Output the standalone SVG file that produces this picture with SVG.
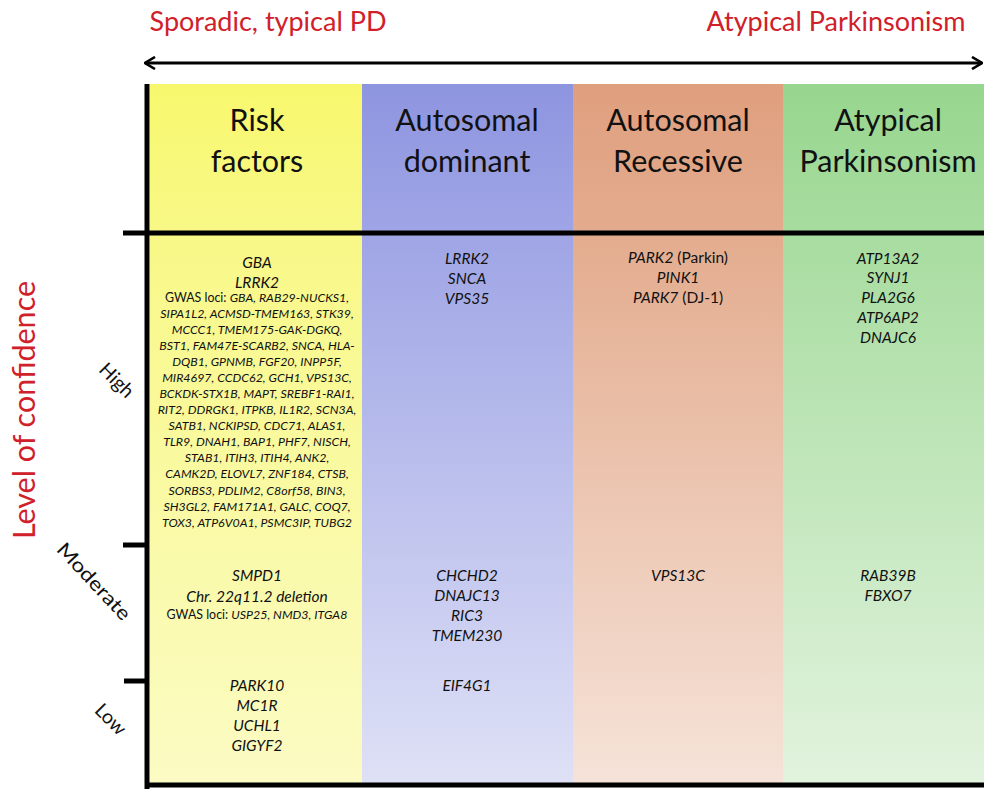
<svg xmlns="http://www.w3.org/2000/svg" width="984" height="789" viewBox="0 0 984 789">
<defs>
<linearGradient id="gy" x1="0" y1="0" x2="0" y2="1"><stop offset="0" stop-color="#f8f86e"/><stop offset="0.2" stop-color="#f8f886"/><stop offset="1" stop-color="#fbfbc4"/></linearGradient>
<linearGradient id="gb" x1="0" y1="0" x2="0" y2="1"><stop offset="0" stop-color="#8e95df"/><stop offset="0.2" stop-color="#9ea4e5"/><stop offset="1" stop-color="#dfe1f6"/></linearGradient>
<linearGradient id="go" x1="0" y1="0" x2="0" y2="1"><stop offset="0" stop-color="#df9f7e"/><stop offset="0.2" stop-color="#e3ab8d"/><stop offset="1" stop-color="#f6e3d9"/></linearGradient>
<linearGradient id="gg" x1="0" y1="0" x2="0" y2="1"><stop offset="0" stop-color="#97d68e"/><stop offset="0.2" stop-color="#a7dc9f"/><stop offset="1" stop-color="#e2f3de"/></linearGradient>
<marker id="ah" viewBox="0 0 12 14" refX="11" refY="7" markerWidth="12" markerHeight="14" markerUnits="userSpaceOnUse" orient="auto-start-reverse"><path d="M1,1 L11,7 L1,13" fill="none" stroke="#000" stroke-width="2.6"/></marker>
<style>
text{font-family:Lato,"Open Sans","Liberation Sans",sans-serif;fill:#111;text-anchor:middle}
.hd{font-size:30.5px}
.red{fill:#d0202a;font-size:27px}
.vred{fill:#d0202a;font-size:30.5px}
.g{font-size:15.5px;font-style:italic}
.s{font-size:12.4px;font-style:italic}
.n{font-style:normal}
.lv{font-size:19.5px}
.ax{stroke:#000;stroke-width:5;fill:none}
</style>
</defs>
<g id="columns">
<rect x="150" y="84" width="212" height="703" fill="url(#gy)"/>
<rect x="362" y="84" width="211" height="703" fill="url(#gb)"/>
<rect x="573" y="84" width="210" height="703" fill="url(#go)"/>
<rect x="783" y="84" width="201" height="703" fill="url(#gg)"/>
</g>
<g id="connectors">
<line x1="145" y1="63" x2="982" y2="63" stroke="#000" stroke-width="3" marker-start="url(#ah)" marker-end="url(#ah)"/>
<line class="ax" x1="147" y1="84" x2="147" y2="789"/>
<line class="ax" x1="123" y1="233" x2="984" y2="233"/>
<line class="ax" x1="145" y1="785" x2="984" y2="785"/>
<line class="ax" x1="123" y1="545" x2="147" y2="545"/>
<line class="ax" x1="124" y1="681" x2="147" y2="681"/>
</g>
<g id="axis-labels">
<text class="red" x="268" y="31">Sporadic, typical PD</text>
<text class="red" x="836" y="31">Atypical Parkinsonism</text>
<text class="vred" transform="translate(35,410) rotate(-90)">Level of confidence</text>
<text class="lv" transform="translate(112,385) rotate(45)">High</text>
<text class="lv" transform="translate(89,586) rotate(47)" textLength="98" lengthAdjust="spacingAndGlyphs">Moderate</text>
<text class="lv" transform="translate(106,724) rotate(45)">Low</text>
</g>
<g id="header-risk"><text class="hd" x="257" y="131">Risk</text><text class="hd" x="257" y="172">factors</text></g>
<g id="header-ad"><text class="hd" x="467" y="131">Autosomal</text><text class="hd" x="467" y="172">dominant</text></g>
<g id="header-ar"><text class="hd" x="678" y="131">Autosomal</text><text class="hd" x="678" y="172">Recessive</text></g>
<g id="header-ap"><text class="hd" x="888" y="131">Atypical</text><text class="hd" x="888" y="172">Parkinsonism</text></g>
<g id="risk-high">
<text class="g" x="257" y="268">GBA</text>
<text class="g" x="257" y="288">LRRK2</text>
<text class="s" x="257" y="302"><tspan class="n">GWAS loci: </tspan>GBA, RAB29-NUCKS1,</text>
<text class="s" x="257" y="318">SIPA1L2, ACMSD-TMEM163, STK39,</text>
<text class="s" x="257" y="334">MCCC1, TMEM175-GAK-DGKQ,</text>
<text class="s" x="257" y="350">BST1, FAM47E-SCARB2, SNCA, HLA-</text>
<text class="s" x="257" y="366">DQB1, GPNMB, FGF20, INPP5F,</text>
<text class="s" x="257" y="382">MIR4697, CCDC62, GCH1, VPS13C,</text>
<text class="s" x="257" y="398">BCKDK-STX1B, MAPT, SREBF1-RAI1,</text>
<text class="s" x="257" y="414">RIT2, DDRGK1, ITPKB, IL1R2, SCN3A,</text>
<text class="s" x="257" y="430">SATB1, NCKIPSD, CDC71, ALAS1,</text>
<text class="s" x="257" y="446">TLR9, DNAH1, BAP1, PHF7, NISCH,</text>
<text class="s" x="257" y="462">STAB1, ITIH3, ITIH4, ANK2,</text>
<text class="s" x="257" y="478">CAMK2D, ELOVL7, ZNF184, CTSB,</text>
<text class="s" x="257" y="495">SORBS3, PDLIM2, C8orf58, BIN3,</text>
<text class="s" x="257" y="511">SH3GL2, FAM171A1, GALC, COQ7,</text>
<text class="s" x="257" y="527">TOX3, ATP6V0A1, PSMC3IP, TUBG2</text>
</g>
<g id="ad-high"><text class="g" x="467" y="264">LRRK2</text><text class="g" x="467" y="284">SNCA</text><text class="g" x="467" y="304">VPS35</text></g>
<g id="ar-high"><text class="g" x="678" y="263">PARK2<tspan class="n"> (Parkin)</tspan></text><text class="g" x="678" y="283">PINK1</text><text class="g" x="678" y="303">PARK7<tspan class="n"> (DJ-1)</tspan></text></g>
<g id="ap-high"><text class="g" x="888" y="264">ATP13A2</text><text class="g" x="888" y="283">SYNJ1</text><text class="g" x="888" y="303">PLA2G6</text><text class="g" x="888" y="323">ATP6AP2</text><text class="g" x="888" y="343">DNAJC6</text></g>
<g id="risk-moderate"><text class="g" x="257" y="581">SMPD1</text><text class="g" x="257" y="602">Chr. 22q11.2 deletion</text><text class="s" x="257" y="619"><tspan class="n">GWAS loci: </tspan>USP25, NMD3, ITGA8</text></g>
<g id="ad-moderate"><text class="g" x="467" y="581">CHCHD2</text><text class="g" x="467" y="601">DNAJC13</text><text class="g" x="467" y="621">RIC3</text><text class="g" x="467" y="641">TMEM230</text></g>
<g id="ar-moderate"><text class="g" x="678" y="581">VPS13C</text></g>
<g id="ap-moderate"><text class="g" x="888" y="581">RAB39B</text><text class="g" x="888" y="601">FBXO7</text></g>
<g id="risk-low"><text class="g" x="257" y="691">PARK10</text><text class="g" x="257" y="711">MC1R</text><text class="g" x="257" y="731">UCHL1</text><text class="g" x="257" y="751">GIGYF2</text></g>
<g id="ad-low"><text class="g" x="467" y="691">EIF4G1</text></g>
</svg>
